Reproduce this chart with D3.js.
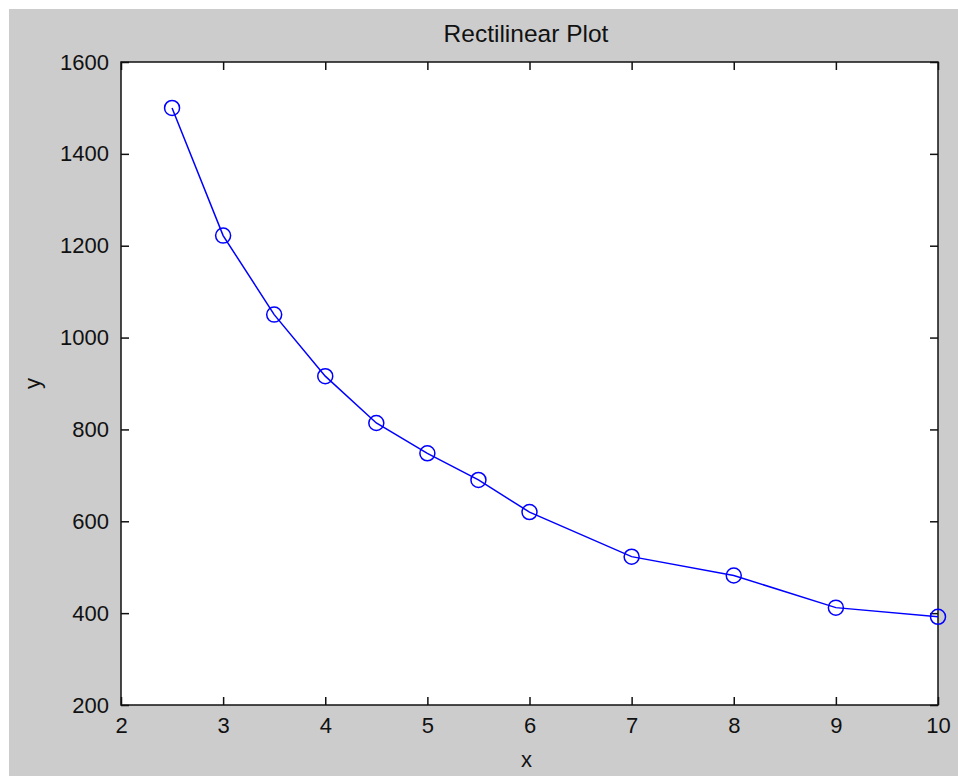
<!DOCTYPE html>
<html><head><meta charset="utf-8">
<script src="https://cdn.jsdelivr.net/npm/d3@7"></script>
<style>html,body{margin:0;padding:0;background:#fff;}svg{display:block;}</style>
</head><body>
<svg id="c" width="958" height="776"></svg>
<script>
const xValues = [2.5, 3, 3.5, 4, 4.5, 5, 5.5, 6, 7, 8, 9, 10];
const yValues = [1500, 1222, 1050, 916, 814, 748, 690, 620, 523, 482, 412, 392];
const xTicks = [2, 3, 4, 5, 6, 7, 8, 9, 10];
const yTicks = [200, 400, 600, 800, 1000, 1200, 1400, 1600];
const title = "Rectilinear Plot";
const xLabel = "x", yLabel = "y";

const svg = d3.select("#c");
const font = "'Liberation Sans', Arial, sans-serif";
const L = 121, R = 938, T = 62, B = 705;

svg.append("rect").attr("x", 9).attr("y", 9).attr("width", 949).attr("height", 767).attr("fill", "#cccccc");
svg.append("rect").attr("x", L).attr("y", T).attr("width", R - L).attr("height", B - T).attr("fill", "#fff");

const x = d3.scaleLinear().domain([2, 10]).range([L, R]);
const y = d3.scaleLinear().domain([200, 1600]).range([B, T]);

function styleAxis(g) {
  g.select(".domain").remove();
  g.selectAll(".tick line").attr("stroke", "#111").attr("stroke-width", 1.5);
  g.selectAll(".tick text").attr("fill", "#111").attr("font-family", font).attr("font-size", 22);
}

svg.append("g").attr("transform", `translate(0,${B})`)
  .call(d3.axisBottom(x).tickValues(xTicks).tickFormat(d3.format("d")).tickSizeInner(-8).tickPadding(12))
  .call(styleAxis);
svg.append("g").attr("transform", `translate(0,${T})`)
  .call(d3.axisTop(x).tickValues(xTicks).tickFormat("").tickSizeInner(-8))
  .call(styleAxis);
svg.append("g").attr("transform", `translate(${L},0)`)
  .call(d3.axisLeft(y).tickValues(yTicks).tickFormat(d3.format("d")).tickSizeInner(-8).tickPadding(12))
  .call(styleAxis);
svg.append("g").attr("transform", `translate(${R},0)`)
  .call(d3.axisRight(y).tickValues(yTicks).tickFormat("").tickSizeInner(-8))
  .call(styleAxis);

svg.append("rect").attr("x", L).attr("y", T).attr("width", R - L).attr("height", B - T)
  .attr("fill", "none").attr("stroke", "#111").attr("stroke-width", 1.5);

const data = xValues.map((v, i) => [v, yValues[i]]);
svg.append("path").datum(data)
  .attr("d", d3.line().x(d => x(d[0])).y(d => y(d[1])))
  .attr("fill", "none").attr("stroke", "#0000ff").attr("stroke-width", 1.5);
svg.append("g").selectAll("circle").data(data).join("circle")
  .attr("cx", d => x(d[0])).attr("cy", d => y(d[1])).attr("r", 7.5)
  .attr("fill", "none").attr("stroke", "#0000ff").attr("stroke-width", 1.5);

svg.append("text").attr("x", 526).attr("y", 42).attr("text-anchor", "middle")
  .attr("font-family", font).attr("font-size", 24.5).attr("fill", "#111").text(title);
svg.append("text").attr("x", (L + R) / 2 - 3).attr("y", 767).attr("text-anchor", "middle")
  .attr("font-family", font).attr("font-size", 22).attr("fill", "#111").text(xLabel);
svg.append("text").attr("transform", `translate(40,${(T + B) / 2}) rotate(-90)`).attr("text-anchor", "middle")
  .attr("font-family", font).attr("font-size", 22).attr("fill", "#111").text(yLabel);
</script>
</body></html>
